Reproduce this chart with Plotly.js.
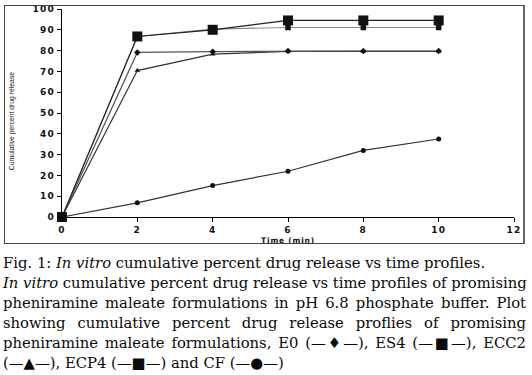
<!DOCTYPE html>
<html>
<head>
<meta charset="utf-8">
<script src="https://cdn.plot.ly/plotly-3.0.1.min.js"></script>
<style>
  html, body { margin: 0; padding: 0; background: #fff; }
  #wrap { position: relative; width: 532px; height: 375px; overflow: hidden; }
  #plot { position: absolute; left: 0; top: 0; width: 532px; height: 250px; }
  #frame { position: absolute; left: 4px; top: 5px; width: 518px; height: 237px;
           border: 1px solid #444; border-right: 2px solid #666; pointer-events: none; }
  #caption { position: absolute; left: 3px; top: 253px; width: 523px;
             font-family: "DejaVu Serif", serif; font-size: 14.8px; line-height: 20px; color: #0a0a0a; }
  #caption .j { text-align: justify; text-align-last: justify; white-space: nowrap; }
  #caption .l { text-align: left; white-space: nowrap; }
  #plot .xtick text, #plot .ytick text { letter-spacing: 1.2px; }
  #plot .g-xtitle text { letter-spacing: 0.8px; }
</style>
</head>
<body>
<div id="wrap">
  <div id="plot"></div>
  <div id="frame"></div>
  <div id="caption">
    <div class="l">Fig. 1: <i>In vitro</i> cumulative percent drug release vs time profiles.</div>
    <div class="j"><i>In vitro</i> cumulative percent drug release vs time profiles of promising</div>
    <div class="j">pheniramine maleate formulations in pH 6.8 phosphate buffer. Plot</div>
    <div class="j">showing cumulative percent drug release proflies of promising</div>
    <div class="j">pheniramine maleate formulations, E0 (&#8212;&#9830;&#8212;), ES4 (&#8212;&#9632;&#8212;), ECC2</div>
    <div class="l">(&#8212;&#9650;&#8212;), ECP4 (&#8212;<b>&#9632;</b>&#8212;) and CF (&#8212;&#9679;&#8212;)</div>
  </div>
</div>
<script>
const time = [0, 2, 4, 6, 8, 10];
const E0   = [0, 79.1, 79.5, 79.8, 79.8, 79.8];
const ES4  = [0, 86.8, 90.3, 91.1, 91.1, 91.1];
const ECC2 = [0, 70.4, 78.3, 79.6, 79.6, 79.6];
const ECP4 = [0, 86.8, 90.0, 94.5, 94.5, 94.5];
const CF   = [0, 6.8, 15.1, 22.0, 32.0, 37.5];
const xTicks = [0, 2, 4, 6, 8, 10, 12];
const yTicks = [0, 10, 20, 30, 40, 50, 60, 70, 80, 90, 100];
const yTitle = 'Cumulative percent drug release';
const xTitle = 'Time (min)';

function tr(name, y, sym, size, lineColor) {
  return {
    x: time, y: y, name: name, type: 'scatter', mode: 'lines+markers',
    cliponaxis: false,
    line: { color: lineColor, width: 1.2 },
    marker: { symbol: sym, size: size, color: '#111' }
  };
}

const data = [
  tr('CF', CF, 'circle', 5, '#333'),
  tr('ECC2', ECC2, 'triangle-up', 5, '#333'),
  tr('E0', E0, 'diamond', 5, '#555'),
  tr('ES4', ES4, 'square', 5.5, '#888'),
  tr('ECP4', ECP4, 'square', 10, '#222')
];

const tickFont = { family: 'DejaVu Sans', size: 9, color: '#111', weight: 'bold' };

const layout = {
  width: 532, height: 250,
  margin: { l: 62, r: 18, t: 9, b: 33 },
  paper_bgcolor: 'rgba(0,0,0,0)', plot_bgcolor: 'rgba(0,0,0,0)',
  showlegend: false,
  xaxis: {
    range: [0, 12], tickvals: xTicks, ticktext: xTicks.map(String),
    showgrid: false, zeroline: false, showline: true, linecolor: '#000', linewidth: 1.2,
    ticks: 'outside', ticklen: 4, tickcolor: '#000',
    tickfont: tickFont,
    title: { text: '<b>' + xTitle + '</b>', font: { family: 'DejaVu Sans', size: 7.5, color: '#111' }, standoff: 3 }
  },
  yaxis: {
    range: [0, 100], tickvals: yTicks, ticktext: yTicks.map(String),
    showgrid: false, zeroline: false, showline: true, linecolor: '#000', linewidth: 1.2,
    ticks: 'outside', ticklen: 4, tickcolor: '#000',
    tickfont: tickFont
  },
  annotations: [{
    text: yTitle, textangle: -90, showarrow: false,
    xref: 'paper', yref: 'paper', x: -0.111, y: 0.46, xanchor: 'center', yanchor: 'middle',
    font: { family: 'Liberation Sans', size: 6.8, color: '#111' }
  }]
};

Plotly.newPlot('plot', data, layout, { staticPlot: true, displayModeBar: false });
</script>
</body>
</html>
